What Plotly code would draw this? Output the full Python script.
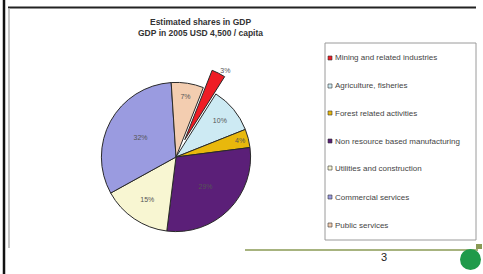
import plotly.graph_objects as go

# ---- data ----
categories = ["Mining and related industries", "Agriculture, fisheries", "Forest related activities",
              "Non resource based manufacturing", "Utilities and construction",
              "Commercial services", "Public services"]
shares = [3, 10, 4, 29, 15, 32, 7]
colors = ["#ee1c25", "#cdeaf3", "#e8b80c", "#5b1f78", "#f8f6d2", "#9a9be0", "#f3cdb0"]
title_lines = ["Estimated shares in GDP", "GDP in 2005 USD 4,500 / capita"]
page_number = "3"

W, H = 483, 274
def px(x): return x / W
def py(y): return 1 - y / H

cx, cy, half = 176, 157, 94
fig = go.Figure(go.Pie(
    labels=categories, values=shares, sort=False, direction="clockwise", rotation=21.5,
    pull=[0.26, 0, 0, 0, 0, 0, 0],
    marker=dict(colors=colors, line=dict(color="#2a2a2a", width=1)),
    texttemplate="%{percent:.0%}",
    textposition=["outside", "inside", "inside", "inside", "inside", "inside", "inside"],
    insidetextorientation="horizontal",
    textfont=dict(size=7, color="#555555", family="Arial"),
    showlegend=False, hoverinfo="label+percent",
    domain=dict(x=[px(cx - half), px(cx + half)], y=[py(cy + half), py(cy - half)]),
))

shapes = []
annotations = []
# slide frame lines
shapes.append(dict(type="line", xref="paper", yref="paper", x0=px(4), x1=px(4), y0=0, y1=1,
                   line=dict(color="#111111", width=2.5)))
shapes.append(dict(type="line", xref="paper", yref="paper", x0=px(8), x1=px(476), y0=py(7.5), y1=py(7.5),
                   line=dict(color="#222222", width=2)))
shapes.append(dict(type="line", xref="paper", yref="paper", x0=px(9), x1=px(9), y0=py(8), y1=py(248),
                   line=dict(color="#b0b0b0", width=1.5)))
shapes.append(dict(type="line", xref="paper", yref="paper", x0=px(245), x1=px(478), y0=py(250), y1=py(250),
                   line=dict(color="#8a9a55", width=1.5)))
shapes.append(dict(type="rect", xref="paper", yref="paper", x0=px(476), x1=px(482), y0=py(249), y1=py(244),
                   line=dict(width=0), fillcolor="#8a9a55"))
# logo
shapes.append(dict(type="circle", xref="paper", yref="paper", x0=px(460), x1=px(481), y0=py(270), y1=py(249),
                   line=dict(width=0), fillcolor="#1f9a4a"))

# legend box
lx0, lx1, ly0, ly1 = 325, 476, 43, 240
shapes.append(dict(type="rect", xref="paper", yref="paper", x0=px(lx0), x1=px(lx1), y0=py(ly1), y1=py(ly0),
                   line=dict(color="#9a9a9a", width=1), fillcolor="rgba(0,0,0,0)"))
ys = [58, 86, 113, 141, 168, 197, 225]
for name, col, yy in zip(categories, colors, ys):
    shapes.append(dict(type="rect", xref="paper", yref="paper", x0=px(328), x1=px(332), y0=py(yy + 2), y1=py(yy - 2),
                       line=dict(color="#333333", width=0.6), fillcolor=col))
    annotations.append(dict(text=name, xref="paper", yref="paper", x=px(333), y=py(yy), xanchor="left",
                            yanchor="middle", showarrow=False, font=dict(size=8, color="#444444", family="Arial")))

# title
annotations.append(dict(text="<b>" + title_lines[0] + "<br>" + title_lines[1] + "</b>", xref="paper", yref="paper",
                        x=px(200), y=py(28), xanchor="center", yanchor="middle", showarrow=False,
                        font=dict(size=8.5, color="#333333", family="Arial")))
annotations.append(dict(text=page_number, xref="paper", yref="paper", x=px(384), y=py(257), xanchor="center",
                        yanchor="middle", showarrow=False, font=dict(size=11, color="#222222", family="Arial")))

fig.update_layout(width=W, height=H, margin=dict(l=0, r=0, t=0, b=0),
                  paper_bgcolor="white", plot_bgcolor="white",
                  shapes=shapes, annotations=annotations)
fig.write_html("out.html", config={"displayModeBar": False},
               post_script="document.body.style.margin='0px';")
